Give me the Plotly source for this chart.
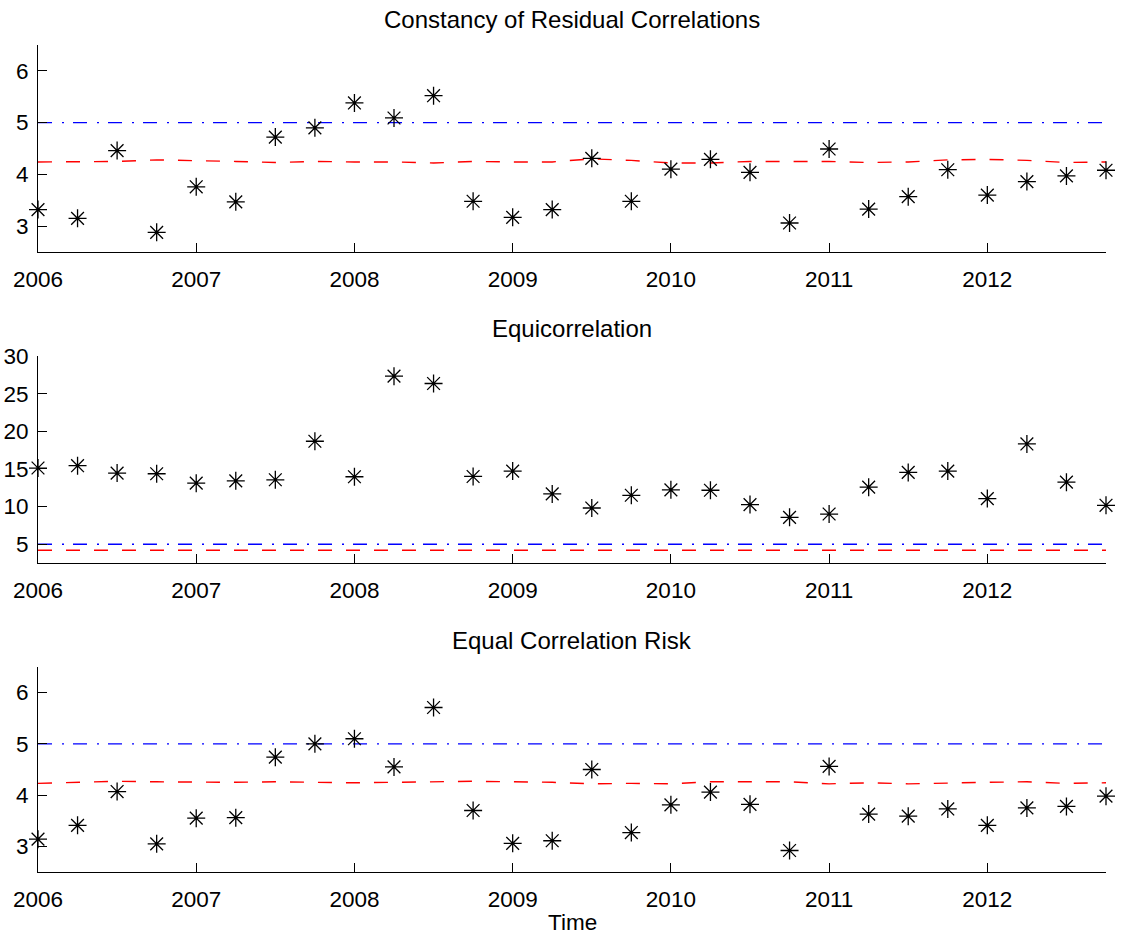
import plotly.graph_objects as go
from plotly.subplots import make_subplots

# ---------------- data ----------------
time = [2006.00, 2006.25, 2006.50, 2006.75, 2007.00, 2007.25, 2007.50, 2007.75,
        2008.00, 2008.25, 2008.50, 2008.75, 2009.00, 2009.25, 2009.50, 2009.75,
        2010.00, 2010.25, 2010.50, 2010.75, 2011.00, 2011.25, 2011.50, 2011.75,
        2012.00, 2012.25, 2012.50, 2012.75]

residual_corr = [3.32, 3.15, 4.46, 2.88, 3.76, 3.47, 4.72, 4.90,
                 5.38, 5.09, 5.52, 3.48, 3.17, 3.32, 4.31, 3.48,
                 4.10, 4.29, 4.04, 3.06, 4.49, 3.33, 3.57, 4.09,
                 3.60, 3.86, 3.97, 4.08]

equicorr = [15.12, 15.43, 14.45, 14.36, 13.11, 13.42, 13.56, 18.68,
            13.96, 27.33, 26.35, 14.00, 14.71, 11.68, 9.81, 11.50,
            12.22, 12.17, 10.26, 8.57, 9.01, 12.58, 14.54, 14.71,
            11.06, 18.32, 13.24, 10.17]

equal_corr_risk = [3.14, 3.41, 4.07, 3.05, 3.55, 3.56, 4.74, 5.00,
                   5.10, 4.55, 5.71, 3.70, 3.06, 3.11, 4.50, 3.27,
                   3.81, 4.06, 3.82, 2.92, 4.56, 3.63, 3.59, 3.73,
                   3.41, 3.75, 3.78, 3.98]

crit_top = [4.24, 4.24, 4.25, 4.28, 4.27, 4.25, 4.23, 4.25,
            4.24, 4.24, 4.22, 4.25, 4.24, 4.24, 4.30, 4.27,
            4.22, 4.22, 4.25, 4.25, 4.25, 4.23, 4.24, 4.28,
            4.29, 4.27, 4.23, 4.24]

crit_mid = [4.20, 4.20, 4.21, 4.22, 4.21, 4.20, 4.19, 4.20,
            4.20, 4.20, 4.19, 4.20, 4.20, 4.20, 4.22, 4.21,
            4.19, 4.19, 4.20, 4.20, 4.20, 4.19, 4.20, 4.21,
            4.22, 4.21, 4.19, 4.20]

crit_bot = [4.23, 4.25, 4.27, 4.26, 4.25, 4.25, 4.26, 4.25,
            4.24, 4.25, 4.26, 4.27, 4.26, 4.25, 4.22, 4.23,
            4.22, 4.26, 4.26, 4.26, 4.22, 4.24, 4.22, 4.24,
            4.25, 4.26, 4.23, 4.24]

bound = [5.0] * len(time)

titles = ["Constancy of Residual Correlations", "Equicorrelation", "Equal Correlation Risk"]
x_ticks = [2006, 2007, 2008, 2009, 2010, 2011, 2012]
y_ticks_small = [3, 4, 5, 6]
y_ticks_mid = [5, 10, 15, 20, 25, 30]

# ---------------- figure ----------------
FONT = "Liberation Sans, Arial, Helvetica, sans-serif"
fig = make_subplots(rows=3, cols=1)

panels = [(residual_corr, crit_top, [2.5, 6.5], y_ticks_small),
          (equicorr, crit_mid, [2.5, 30], y_ticks_mid),
          (equal_corr_risk, crit_bot, [2.5, 6.5], y_ticks_small)]

domains = [[0.7497, 1.0], [0.3736, 0.6239], [0.0, 0.2479]]

for i, (stat, crit, yr, yt) in enumerate(panels, start=1):
    fig.add_trace(go.Scatter(x=time, y=bound, mode="lines",
                             line=dict(color="#0000ff", width=1.4, dash="14px,10px,2px,9px"),
                             showlegend=False, cliponaxis=False), row=i, col=1)
    fig.add_trace(go.Scatter(x=time, y=crit, mode="lines",
                             line=dict(color="#ff0000", width=1.4, dash="14px,14px"),
                             showlegend=False, cliponaxis=False), row=i, col=1)
    fig.add_trace(go.Scatter(x=time, y=stat, mode="markers",
                             marker=dict(symbol="asterisk-open", size=15,
                                         color="black", line=dict(color="black", width=1.3)),
                             showlegend=False, cliponaxis=False), row=i, col=1)
    fig.update_xaxes(range=[2006, 2012.75], tickvals=x_ticks, ticktext=[str(v) for v in x_ticks],
                     ticks="inside", ticklen=9, tickwidth=1, tickcolor="black",
                     showline=True, linecolor="black", linewidth=1, mirror=False,
                     showgrid=False, zeroline=False, ticklabelstandoff=7, automargin=False,
                     tickfont=dict(family=FONT, size=22.5, color="black"),
                     row=i, col=1)
    fig.update_yaxes(range=yr, tickvals=yt, ticks="inside", ticklen=9, tickwidth=1,
                     tickcolor="black", showline=True, linecolor="black", linewidth=1,
                     mirror=False, showgrid=False, zeroline=False, ticklabelstandoff=4,
                     automargin=False,
                     tickfont=dict(family=FONT, size=22.5, color="black"),
                     domain=domains[i - 1], row=i, col=1)

# titles
title_y = [1.0314, 0.6566, 0.2805]
for t, ty in zip(titles, title_y):
    fig.add_annotation(text=t, x=0.5, y=ty, xref="paper", yref="paper",
                       xanchor="center", yanchor="middle", showarrow=False,
                       font=dict(family=FONT, size=24, color="black"))

fig.add_annotation(text="Time", x=0.5, y=-0.0605, xref="paper", yref="paper",
                   xanchor="center", yanchor="middle", showarrow=False,
                   font=dict(family=FONT, size=22.5, color="black"))

fig.update_layout(width=1124, height=938, paper_bgcolor="white", plot_bgcolor="white",
                  margin=dict(l=38, r=18, t=45, b=66, autoexpand=False), showlegend=False)

# remove the default page-body margin so the figure fills the window exactly
fig.write_html("out.html", config={"displayModeBar": False},
               post_script="document.body.style.margin='0';document.body.style.padding='0';")
